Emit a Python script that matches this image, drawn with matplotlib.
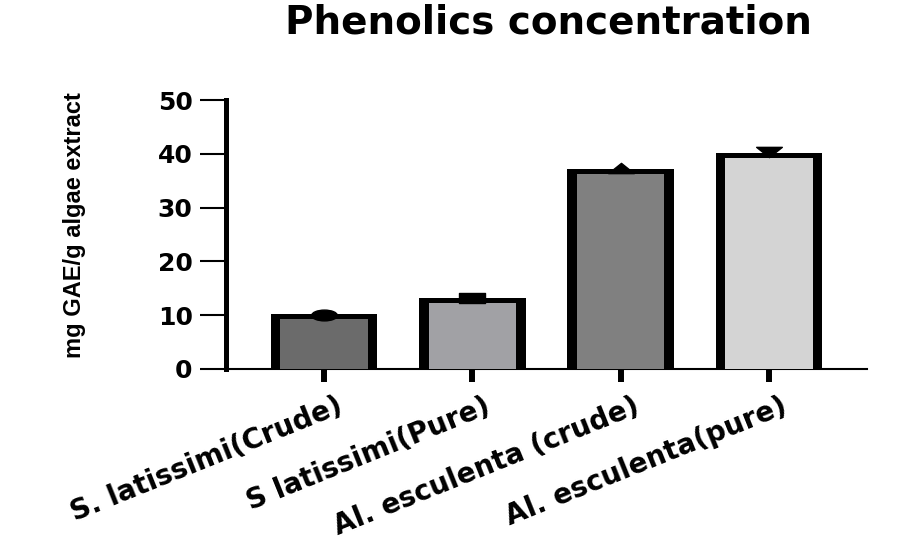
import numpy as np
import matplotlib
matplotlib.use("Agg")
import matplotlib.pyplot as plt
from matplotlib.path import Path
import matplotlib.transforms as mtransforms

# --- DATA ---
categories = ["S. latissimi(Crude)", "S latissimi(Pure)",
              "Al. esculenta (crude)", "Al. esculenta(pure)"]
means = [10.2, 13.2, 37.2, 40.1]
points = [10.1, 13.2, 37.4, 40.3]
yticks = [0, 10, 20, 30, 40, 50]

fills = ["#6b6b6b", "#a1a1a5", "#808080", "#d4d4d4"]

# flat markers (GraphPad look)
circ = Path.unit_circle()
m_circle = Path(circ.vertices * [1.0, 0.42], circ.codes)
m_square = Path([(-1, -0.4), (1, -0.4), (1, 0.4), (-1, 0.4), (-1, -0.4)],
                [Path.MOVETO, Path.LINETO, Path.LINETO, Path.LINETO, Path.CLOSEPOLY])
m_up = Path([(-1, -0.4), (1, -0.4), (0, 0.4), (-1, -0.4)],
            [Path.MOVETO, Path.LINETO, Path.LINETO, Path.CLOSEPOLY])
m_down = Path([(-1, 0.4), (1, 0.4), (0, -0.4), (-1, 0.4)],
              [Path.MOVETO, Path.LINETO, Path.LINETO, Path.CLOSEPOLY])
markers = [m_circle, m_square, m_up, m_down]

fig = plt.figure(figsize=(9, 5.46), dpi=100)
ax = fig.add_axes([0.2511, 0.3242, 0.7122, 0.4926])

x = np.arange(len(categories))
# black outline bar, then the fill inset
ax.bar(x, means, width=0.72, color="black", zorder=2)
ax.bar(x, np.array(means) - 0.9, width=0.59, color=fills, zorder=3)
for xi, yi, mk in zip(x, points, markers):
    ax.plot(xi, yi, marker=mk, markersize=18.5, color="black", zorder=4,
            linestyle="none")

ax.set_xlim(-0.66, 3.66)
ax.set_ylim(0, 50)
ax.set_yticks(yticks)
ax.set_xticks(x)

for s in ["top", "right"]:
    ax.spines[s].set_visible(False)
ax.spines["left"].set_linewidth(3.6)
ax.spines["bottom"].set_linewidth(1.5)

ax.tick_params(axis="y", length=19, width=1.5, pad=5)
ax.tick_params(axis="x", length=9, width=4.3, pad=4)

for lab in ax.get_yticklabels():
    lab.set_fontfamily("DejaVu Sans")
    lab.set_fontweight("bold")
    lab.set_fontsize(18)

ax.set_xticklabels(categories, rotation=22, ha="right", va="top",
                   rotation_mode="anchor", fontfamily="DejaVu Sans",
                   fontweight="bold", fontsize=20)
off = mtransforms.ScaledTranslation(12 / 100, -5 / 100, fig.dpi_scale_trans)
for lab in ax.get_xticklabels():
    lab.set_transform(lab.get_transform() + off)

fig.text(75 / 900, 1 - 225 / 546, "mg GAE/g algae extract", rotation=90,
         ha="center", va="center", fontfamily="Liberation Sans",
         fontweight="bold", fontsize=17)

fig.text(548 / 900, 1 - 33 / 546, "Phenolics concentration", ha="center",
         va="baseline", fontfamily="DejaVu Sans", fontweight="bold", fontsize=28)

fig.savefig("out.png", dpi=100)
